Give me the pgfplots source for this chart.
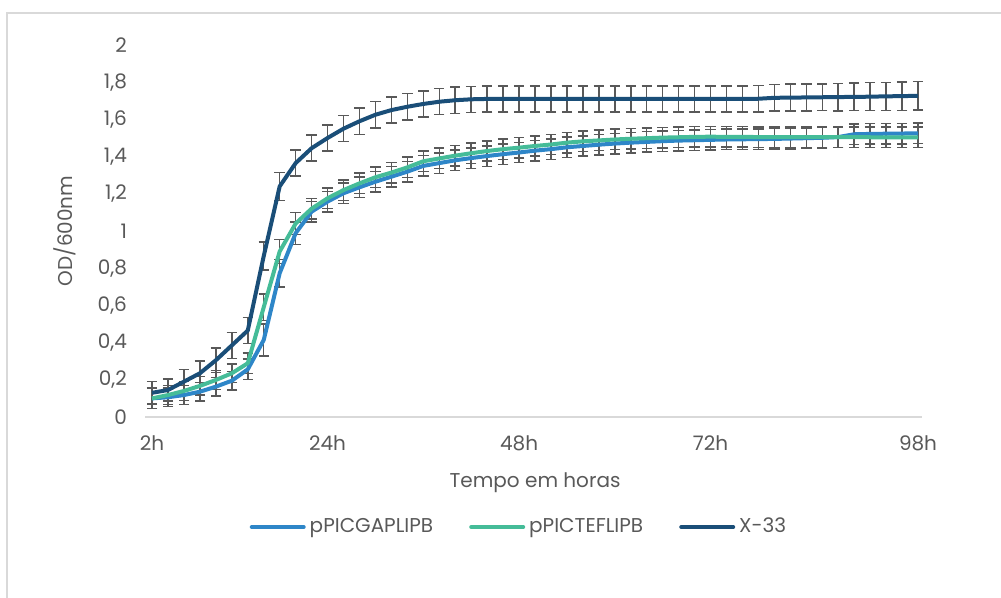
\documentclass[border=0pt]{standalone}
\usepackage{fontspec}
\setmainfont{Poppins}
\usepackage{pgfplots}
\usepackage{pgfplotstable}
\pgfplotsset{compat=1.18}
\definecolor{cgap}{HTML}{2E86C8}
\definecolor{ctef}{HTML}{45BC98}
\definecolor{cx}{HTML}{1A4E78}
\definecolor{txt}{HTML}{595959}
\definecolor{ebar}{HTML}{595959}
\definecolor{frame}{HTML}{D9D9D9}

\pgfplotstableread{
h gap egap tef etef x ex
2 0.100 0.055 0.100 0.055 0.130 0.060
4 0.106 0.050 0.118 0.050 0.145 0.060
6 0.118 0.050 0.140 0.050 0.190 0.065
8 0.136 0.050 0.167 0.050 0.235 0.065
10 0.163 0.050 0.199 0.050 0.305 0.065
12 0.195 0.050 0.235 0.050 0.385 0.070
14 0.256 0.055 0.289 0.055 0.465 0.070
16 0.414 0.085 0.590 0.070 0.865 0.075
18 0.773 0.075 0.890 0.065 1.240 0.075
20 0.988 0.060 1.040 0.060 1.365 0.070
22 1.104 0.055 1.120 0.055 1.445 0.070
24 1.158 0.055 1.176 0.055 1.500 0.070
26 1.203 0.055 1.220 0.055 1.550 0.070
28 1.235 0.055 1.256 0.055 1.590 0.070
30 1.265 0.055 1.289 0.055 1.625 0.070
32 1.292 0.055 1.314 0.055 1.650 0.070
34 1.319 0.055 1.342 0.055 1.668 0.070
36 1.350 0.055 1.375 0.055 1.683 0.070
38 1.365 0.055 1.390 0.055 1.695 0.070
40 1.380 0.055 1.405 0.055 1.703 0.070
42 1.392 0.055 1.418 0.055 1.708 0.070
44 1.403 0.055 1.430 0.055 1.710 0.070
46 1.413 0.055 1.440 0.055 1.710 0.070
48 1.422 0.055 1.448 0.055 1.710 0.070
50 1.432 0.055 1.457 0.055 1.710 0.070
52 1.440 0.055 1.465 0.055 1.710 0.070
54 1.450 0.055 1.475 0.055 1.710 0.070
56 1.457 0.055 1.482 0.055 1.710 0.070
58 1.464 0.055 1.487 0.055 1.710 0.070
60 1.470 0.055 1.492 0.055 1.710 0.070
62 1.475 0.055 1.496 0.055 1.710 0.070
64 1.479 0.055 1.499 0.055 1.710 0.070
66 1.483 0.055 1.502 0.055 1.710 0.070
68 1.486 0.055 1.504 0.055 1.710 0.070
70 1.488 0.055 1.506 0.055 1.710 0.070
72 1.490 0.055 1.507 0.055 1.710 0.070
74 1.492 0.055 1.506 0.055 1.710 0.070
76 1.493 0.055 1.506 0.055 1.710 0.070
78 1.494 0.055 1.505 0.055 1.711 0.070
80 1.495 0.055 1.505 0.055 1.716 0.072
82 1.497 0.055 1.505 0.055 1.717 0.072
84 1.499 0.055 1.505 0.055 1.718 0.072
86 1.501 0.055 1.504 0.055 1.719 0.072
88 1.505 0.055 1.504 0.055 1.720 0.074
90 1.520 0.055 1.504 0.055 1.721 0.074
92 1.522 0.055 1.504 0.055 1.722 0.075
94 1.523 0.055 1.503 0.055 1.724 0.075
96 1.524 0.055 1.503 0.055 1.725 0.076
98 1.525 0.055 1.503 0.055 1.727 0.076
}\datatable

\begin{document}
\begin{tikzpicture}
\useasboundingbox (0,0) rectangle (500.5pt,299pt);
\draw[frame, line width=0.8pt] (3.5pt,0) -- (3.5pt,292.5pt) -- (501pt,292.5pt);
\begin{axis}[
  at={(72.5pt,90.5pt)}, anchor=south west,
  scale only axis, width=388.5pt, height=186pt,
  xmin=1.12, xmax=98.5, ymin=0, ymax=2,
  axis line style={draw=none},
  major tick length=0pt,
  xtick={2,24,48,72,98},
  xticklabels={2h,24h,48h,72h,98h},
  ytick={0,0.2,...,2.01},
  /pgf/number format/use comma,
  /pgf/number format/fixed,
  /pgf/number format/precision=1,
  /pgf/number format/assume math mode=true,
  font=\fontsize{10}{12}\selectfont,
  every tick label/.append style={text=txt, font=\fontsize{10}{12}\selectfont},
  yticklabel style={xshift=-5.5pt},
  xticklabel style={yshift=-6pt},
  xlabel={Tempo em horas},
  ylabel={OD/600nm},
  label style={text=txt},
  xlabel style={at={(axis description cs:0.502,-0.177)}, anchor=center},
  ylabel style={at={(axis description cs:-0.103,0.5)}, anchor=center},
  legend columns=3,
  legend style={draw=none, fill=none, at={(axis description cs:0.4826,-0.2957)}, anchor=center,
    font=\fontsize{10}{12}\selectfont, text=txt,
    /tikz/every even column/.append style={column sep=16pt}},
  legend cell align=left,
  legend image code/.code={\draw[#1, line width=2pt, line cap=round] (0pt,0pt) -- (26pt,0pt);},
  clip=false,
]
\draw[frame, line width=1pt] (rel axis cs:0,0) -- (rel axis cs:1,0);
% error bars
\addplot[draw=none, forget plot, error bars/.cd, y dir=both, y explicit,
  error bar style={ebar, line width=0.75pt},
  error mark options={rotate=90, mark size=2.6pt, ebar, line width=0.75pt}]
  table[x=h, y=gap, y error=egap]{\datatable};
\addplot[draw=none, forget plot, error bars/.cd, y dir=both, y explicit,
  error bar style={ebar, line width=0.75pt},
  error mark options={rotate=90, mark size=2.6pt, ebar, line width=0.75pt}]
  table[x=h, y=tef, y error=etef]{\datatable};
\addplot[draw=none, forget plot, error bars/.cd, y dir=both, y explicit,
  error bar style={ebar, line width=0.75pt},
  error mark options={rotate=90, mark size=2.6pt, ebar, line width=0.75pt}]
  table[x=h, y=x, y error=ex]{\datatable};
% lines
\addplot[cgap, line width=2pt, line join=round, no markers] table[x=h, y=gap]{\datatable};
\addlegendentry{pPICGAPLIPB}
\addplot[ctef, line width=2pt, line join=round, no markers] table[x=h, y=tef]{\datatable};
\addlegendentry{pPICTEFLIPB}
\addplot[cx, line width=2pt, line join=round, no markers] table[x=h, y=x]{\datatable};
\addlegendentry{X-33}
\end{axis}
\end{tikzpicture}
\end{document}
